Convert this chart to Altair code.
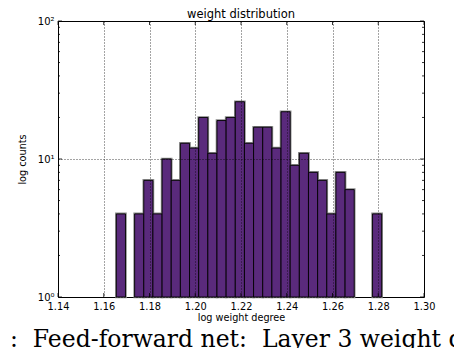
import altair as alt
import pandas as pd

# ---- data ----
bin_first_left = 1.1655
bin_width = 0.004
counts = [4, 0, 4, 7, 4, 10, 7, 13, 12, 20, 11, 19, 20, 26, 13,
          17, 17, 12, 22, 9, 11, 8, 7, 4, 8, 6, 0, 0, 4]
x_ticks = [1.14, 1.16, 1.18, 1.20, 1.22, 1.24, 1.26, 1.28, 1.30]
y_major = [1, 10, 100]
y_minor = [2, 3, 4, 5, 6, 7, 8, 9, 20, 30, 40, 50, 60, 70, 80, 90]
title_text = "weight distribution"
x_title = "log weight degree"
y_title = "log counts"
caption = "1:\u00a0\u00a0Feed-forward net:\u00a0\u00a0Layer 3 weight distribution"

W, H = 366, 276
PURPLE = "#5a2a7c"

rows = []
for k, c in enumerate(counts):
    if c > 0:
        x0 = bin_first_left + k * bin_width
        rows.append({"x0": x0, "x1": x0 + bin_width, "count": c, "base": 1})
df = pd.DataFrame(rows)

xscale = alt.Scale(domain=[1.14, 1.30], nice=False, zero=False)
yscale = alt.Scale(type="log", domain=[1, 100], nice=False)

xaxis = alt.Axis(values=x_ticks, format=".2f", grid=True, gridDash=[1, 2],
                 gridColor="black", gridWidth=0.8, gridOpacity=0.9,
                 ticks=False, domain=False, labelFlush=False,
                 labelFont="DejaVu Sans", labelFontSize=9.8, labelColor="black",
                 labelPadding=4, title=x_title, titleFont="DejaVu Sans",
                 titleFontSize=9.7, titleFontWeight="normal", titleColor="black",
                 titlePadding=2, zindex=1)
yaxis = alt.Axis(values=y_major,
                 labelExpr="datum.value == 1 ? '10⁰' : datum.value == 10 ? '10¹' : '10²'",
                 grid=True, gridDash=[1, 2], gridColor="black", gridWidth=0.8,
                 gridOpacity=0.9, ticks=False, domain=False,
                 labelFont="DejaVu Sans", labelFontSize=10, labelColor="black",
                 labelPadding=4, title=y_title, titleFont="DejaVu Sans",
                 titleFontSize=9.7, titleFontWeight="normal", titleColor="black",
                 titlePadding=10, zindex=1)

bars_bg = alt.Chart(df).mark_bar(fill=PURPLE, stroke="#8c8c8c", strokeWidth=2.6).encode(
    x=alt.X("x0:Q", scale=xscale, axis=xaxis),
    x2="x1:Q",
    y=alt.Y("count:Q", scale=yscale, axis=yaxis),
    y2="base:Q",
)
bars_fg = alt.Chart(df).mark_bar(fill=PURPLE, stroke="black", strokeWidth=0.9).encode(
    x=alt.X("x0:Q", scale=xscale),
    x2="x1:Q",
    y=alt.Y("count:Q", scale=yscale),
    y2="base:Q",
)

ymaj = pd.DataFrame({"count": y_major})
ymin = pd.DataFrame({"count": y_minor})
xmaj = pd.DataFrame({"x0": x_ticks})

def ytick(data, x_from, x_to):
    return alt.Chart(data).mark_rule(color="black", strokeWidth=0.8).encode(
        y=alt.Y("count:Q", scale=yscale),
        x=alt.value(x_from), x2=alt.value(x_to))

def xtick(data, y_from, y_to):
    return alt.Chart(data).mark_rule(color="black", strokeWidth=0.8).encode(
        x=alt.X("x0:Q", scale=xscale),
        y=alt.value(y_from), y2=alt.value(y_to))

ticks = [
    ytick(ymaj, 0, 4), ytick(ymin, 0, 2),
    ytick(ymaj, W, W - 4), ytick(ymin, W, W - 2),
    xtick(xmaj, H, H - 4), xtick(xmaj, 0, 4),
]

title = alt.Chart(pd.DataFrame({"t": [title_text]})).mark_text(
    align="center", baseline="alphabetic", font="DejaVu Sans", fontSize=11.5,
    color="black").encode(text="t:N", x=alt.value(W / 2), y=alt.value(-3))

cap = alt.Chart(pd.DataFrame({"t": [caption]})).mark_text(
    align="left", baseline="alphabetic", font="DejaVu Serif", fontSize=23.5,
    color="black").encode(text="t:N", x=alt.value(-63), y=alt.value(326))

chart = alt.layer(bars_bg, bars_fg, *ticks, title, cap).properties(
    width=W, height=H,
    autosize=alt.AutoSizeParams(type="none"),
    padding={"left": 50, "top": 13, "right": 30, "bottom": 51},
).configure_view(stroke="black", strokeWidth=1)

chart.save("out.html", embed_options={"renderer": "svg", "actions": False})
